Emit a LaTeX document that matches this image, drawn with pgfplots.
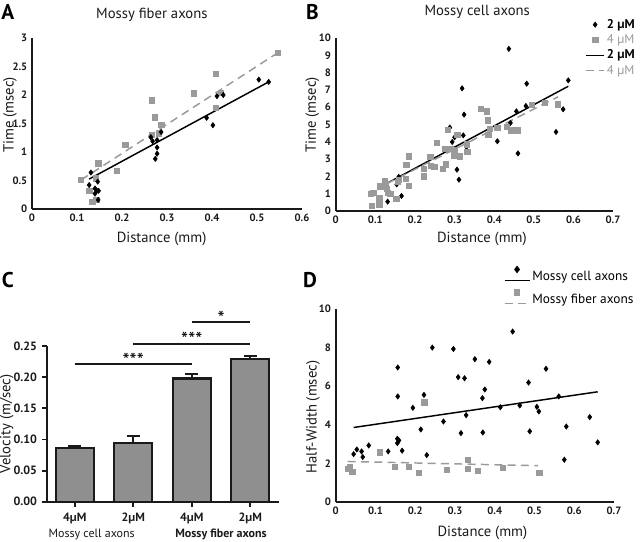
\documentclass[border=0pt]{standalone}
\usepackage{fontspec}
\setmainfont{PT Sans}
\usepackage{pgfplots}
\pgfplotsset{compat=1.18}
\definecolor{lgray}{HTML}{9A9A9A}
\definecolor{bargray}{HTML}{8F8F8F}
\definecolor{axc}{HTML}{1A1A1A}

\pgfplotsset{
 scat/.style={
  scale only axis, axis lines=left, axis line style={-, line width=1.4pt, color=axc},
  major tick length=0pt, enlargelimits=false, clip=false,
  /pgf/number format/assume math mode=true,
  ticklabel style={font=\bfseries\fontsize{8}{9.5}\selectfont, color=axc},
  label style={font=\fontsize{11}{13}\selectfont, color=axc},
  title style={font=\fontsize{11}{13}\selectfont, color=axc},
 },
 dia/.style={only marks, mark=diamond*, mark size=2pt, black, mark options={solid, fill=black, draw=black}},
 sq/.style={only marks, mark=square*, mark size=2pt, lgray, mark options={solid, fill=lgray, draw=lgray}},
 fitS/.style={black, line width=1.1pt, no marks},
 fitD/.style={lgray, line width=1.1pt, dash pattern=on 6pt off 4pt, no marks},
}

\begin{document}
\begin{tikzpicture}
\useasboundingbox (0pt,0pt) rectangle (480pt,406.5pt);

% panel letters
\node[font=\bfseries\fontsize{16}{18}\selectfont, anchor=center] at (5.8pt,397.5pt) {A};
\node[font=\bfseries\fontsize{16}{18}\selectfont, anchor=center] at (234.4pt,397.5pt) {B};
\node[font=\bfseries\fontsize{16}{18}\selectfont, anchor=center] at (5.8pt,196.5pt) {C};
\node[font=\bfseries\fontsize{16}{18}\selectfont, anchor=center] at (232.5pt,196.5pt) {D};

% ---------------- A ----------------
\begin{axis}[scat, at={(24pt,249.75pt)}, anchor=south west,
  width=202.5pt, height=128.25pt,
  xmin=0, xmax=0.6, ymin=0, ymax=3,
  xtick={0,0.1,0.2,0.3,0.4,0.5,0.6}, ytick={0,0.5,1,1.5,2,2.5,3},
  xlabel={Distance (mm)}, ylabel={Time (msec)}, title={Mossy fiber axons},
  title style={at={(axis description cs:0.444,1.088)}, anchor=center},
  xlabel style={at={(axis description cs:0.48,-0.175)}, anchor=center},
  ylabel style={at={(axis description cs:-0.081,0.55)}, anchor=center}]
\addplot[sq] coordinates {
(0.109,0.51) (0.127,0.32) (0.134,0.13) (0.143,0.16) (0.147,0.80) (0.141,0.54)
(0.188,0.67) (0.207,1.13) (0.266,1.91) (0.273,1.61) (0.287,1.48) (0.281,1.33)
(0.266,1.30) (0.359,2.03) (0.408,2.37) (0.408,1.78) (0.419,2.04) (0.546,2.74)};
\addplot[dia] coordinates {
(0.131,0.64) (0.127,0.42) (0.140,0.36) (0.146,0.48) (0.140,0.27) (0.144,0.32)
(0.147,0.16) (0.148,0.32) (0.264,1.26) (0.268,1.19) (0.278,1.21) (0.287,1.35)
(0.278,1.08) (0.278,0.97) (0.274,0.88) (0.388,1.60) (0.402,1.47) (0.411,1.98)
(0.425,2.00) (0.504,2.27) (0.526,2.23)};
\addplot[fitD] coordinates {(0.109,0.51) (0.546,2.74)};
\addplot[fitS] coordinates {(0.127,0.525) (0.526,2.23)};
\end{axis}

% ---------------- B ----------------
\begin{axis}[scat, at={(251.8pt,248.25pt)}, anchor=south west,
  width=208pt, height=129.75pt,
  xmin=0, xmax=0.7, ymin=0, ymax=10,
  xtick={0,0.1,0.2,0.3,0.4,0.5,0.6,0.7}, ytick={0,1,2,3,4,5,6,7,8,9,10},
  xlabel={Distance (mm)}, ylabel={Time (msec)}, title={Mossy cell axons},
  title style={at={(axis description cs:0.51,1.104)}, anchor=center},
  xlabel style={at={(axis description cs:0.527,-0.162)}, anchor=center},
  ylabel style={at={(axis description cs:-0.085,0.555)}, anchor=center},
  legend image code/.code={\draw[mark repeat=2,mark phase=2,#1] plot coordinates {(0cm,0cm) (0.24cm,0cm) (0.48cm,0cm)};},
  legend style={at={(axis description cs:0.899,1.122)}, anchor=north west, draw=none, fill=none,
    inner sep=0pt, font=\fontsize{9.5}{11}\selectfont, row sep=0.2pt, cells={anchor=west},
    nodes={inner sep=1.5pt}}]
\addplot[dia] coordinates {
(0.131,0.54) (0.154,1.54) (0.159,1.97) (0.166,0.87) (0.288,4.82) (0.294,3.99)
(0.300,4.26) (0.306,2.39) (0.311,1.81) (0.319,7.09) (0.322,4.37) (0.324,5.57)
(0.330,3.70) (0.408,4.03) (0.437,9.37) (0.441,5.09) (0.456,5.76) (0.460,3.33)
(0.480,6.07) (0.482,7.36) (0.556,4.57) (0.574,5.88) (0.587,7.55)};
\addlegendentry{\textbf{2 µM}}
\addplot[sq] coordinates {
(0.089,1.00) (0.095,1.06) (0.091,0.31) (0.110,0.38) (0.110,0.77) (0.112,1.43)
(0.123,1.71) (0.127,1.52) (0.129,1.29) (0.132,1.04) (0.138,1.00) (0.153,0.71)
(0.156,1.68) (0.159,1.81) (0.176,1.87) (0.178,2.68) (0.185,3.16) (0.185,1.45)
(0.222,2.00) (0.222,2.45) (0.239,3.12) (0.240,2.62) (0.249,2.56) (0.255,3.95)
(0.270,2.45) (0.277,2.70) (0.275,3.60) (0.283,4.70) (0.289,3.60) (0.298,3.22)
(0.301,3.55) (0.307,4.40) (0.313,3.16) (0.331,3.86) (0.332,3.41) (0.366,5.90)
(0.382,5.76) (0.383,5.24) (0.389,4.76) (0.385,4.39) (0.408,4.82) (0.431,4.86)
(0.443,4.66) (0.459,4.66) (0.495,6.15) (0.527,6.26) (0.561,6.17)};
\addlegendentry{\textcolor{lgray}{4 µM}}
\addplot[fitS] coordinates {(0.131,1.62) (0.587,7.21)};
\addlegendentry{\textbf{2 µM}}
\addplot[fitD] coordinates {(0.129,1.58) (0.561,6.60)};
\addlegendentry{\textcolor{lgray}{4 µM}}
\end{axis}

% ---------------- C ----------------
\begin{axis}[at={(35pt,30.2pt)}, anchor=south west, scale only axis,
  width=174.2pt, height=116.8pt,
  xmin=-0.48, xmax=3.49, ymin=0, ymax=0.25, enlargelimits=false, clip=false,
  axis lines=left, axis line style={-, line width=1.4pt, color=axc},
  tick style={line width=1.4pt, color=axc}, major tick length=3.75pt, tick align=outside,
  ytick={0,0.05,0.10,0.15,0.20,0.25},
  /pgf/number format/assume math mode=true,
  yticklabel style={/pgf/number format/fixed, /pgf/number format/fixed zerofill,
     /pgf/number format/precision=2, font=\bfseries\fontsize{9}{11}\selectfont, color=axc},
  xtick={0,1,2,3}, xticklabels={4µM,2µM,4µM,2µM},
  xticklabel style={font=\bfseries\fontsize{9}{11}\selectfont, color=axc, yshift=-1pt},
  ylabel={Velocity (m/sec)},
  ylabel style={font=\fontsize{11}{13}\selectfont, color=axc, at={(axis description cs:-0.172,0.5)}, anchor=center}]
\addplot[ybar, bar width=28.5pt, fill=bargray, draw=axc, line width=1.7pt,
  error bars/.cd, y dir=plus, y explicit,
  error bar style={line width=1.5pt, color=axc},
  error mark options={rotate=90, mark size=5pt, line width=1.5pt, color=axc}]
  coordinates {(0,0.0865) +- (0,0.0035) (1,0.0937) +- (0,0.0123)
               (2,0.198) +- (0,0.0065) (3,0.2286) +- (0,0.006)};
\addplot[axc, line width=1.5pt, no marks] coordinates {(0,0.2206) (2,0.2206)};
\addplot[axc, line width=1.5pt, no marks] coordinates {(1,0.254) (3,0.254)};
\addplot[axc, line width=1.5pt, no marks] coordinates {(2,0.288) (3,0.288)};
\node[font=\fontsize{15}{16}\selectfont, anchor=center, yshift=3pt] at (axis cs:1,0.2206) {***};
\node[font=\fontsize{15}{16}\selectfont, anchor=center, yshift=3pt] at (axis cs:2,0.254) {***};
\node[font=\fontsize{15}{16}\selectfont, anchor=center, yshift=3pt] at (axis cs:2.5,0.288) {*};
\node[font=\fontsize{9}{11}\selectfont, color=axc, anchor=center] at (axis cs:0.29,-0.053) {Mossy cell axons};
\node[font=\bfseries\fontsize{9}{11}\selectfont, color=axc, anchor=center] at (axis cs:2.5,-0.053) {Mossy fiber axons};
\end{axis}

% ---------------- D ----------------
\begin{axis}[scat, at={(251.8pt,30pt)}, anchor=south west,
  width=208.7pt, height=144.75pt,
  xmin=0, xmax=0.7, ymin=0, ymax=10,
  xtick={0,0.1,0.2,0.3,0.4,0.5,0.6,0.7}, ytick={0,2,4,6,8,10},
  xlabel={Distance (mm)}, ylabel={Half-Width (msec)},
  xlabel style={at={(axis description cs:0.527,-0.159)}, anchor=center},
  ylabel style={at={(axis description cs:-0.082,0.44)}, anchor=center},
  legend image code/.code={
    \draw[#1, mark=none] (0pt,-2.6pt) -- (18.75pt,-2.6pt);
    \draw[#1, solid] plot[only marks] coordinates {(9.4pt,5.6pt)};},
  legend style={at={(axis description cs:0.603,1.22)}, anchor=north west, draw=none, fill=none,
    inner sep=0pt, font=\fontsize{10}{12}\selectfont, row sep=4pt, cells={anchor=west},
    nodes={inner sep=1.5pt}}]
\addplot[dia, forget plot] coordinates {
(0.045,2.48) (0.053,2.72) (0.065,2.62) (0.068,2.33) (0.083,2.93) (0.132,2.62)
(0.156,6.97) (0.156,5.47) (0.155,3.28) (0.159,3.19) (0.155,3.05) (0.167,2.66)
(0.194,4.88) (0.214,3.76) (0.222,5.55) (0.229,2.43) (0.243,8.00) (0.271,4.17)
(0.296,7.93) (0.308,6.47) (0.315,3.57) (0.324,6.41) (0.328,4.50) (0.350,7.40)
(0.369,5.38) (0.370,3.60) (0.375,5.83) (0.386,7.26) (0.414,4.91) (0.445,8.83)
(0.463,5.00) (0.485,6.19) (0.488,3.66) (0.506,4.93) (0.511,4.69) (0.529,6.90)
(0.561,5.47) (0.575,2.19) (0.580,3.91) (0.639,4.40) (0.659,3.09)};
\addplot[sq, forget plot] coordinates {
(0.030,1.71) (0.036,1.81) (0.042,1.55) (0.110,2.57) (0.148,1.84) (0.183,1.84)
(0.209,1.53) (0.223,5.17) (0.280,1.67) (0.332,2.19) (0.332,1.72) (0.358,1.62)
(0.420,1.79) (0.512,1.50)};
\addplot[fitS, forget plot] coordinates {(0.045,3.86) (0.659,5.71)};
\addplot[fitD, forget plot] coordinates {(0.030,2.10) (0.509,1.88)};
\addlegendimage{black, line width=1.1pt, mark=diamond*, mark size=2pt, mark options={fill=black}}
\addlegendentry{Mossy cell axons}
\addlegendimage{lgray, line width=1.1pt, dash pattern=on 6pt off 4pt, mark=square*, mark size=2pt, mark options={fill=lgray}}
\addlegendentry{Mossy fiber axons}
\end{axis}
\end{tikzpicture}
\end{document}
